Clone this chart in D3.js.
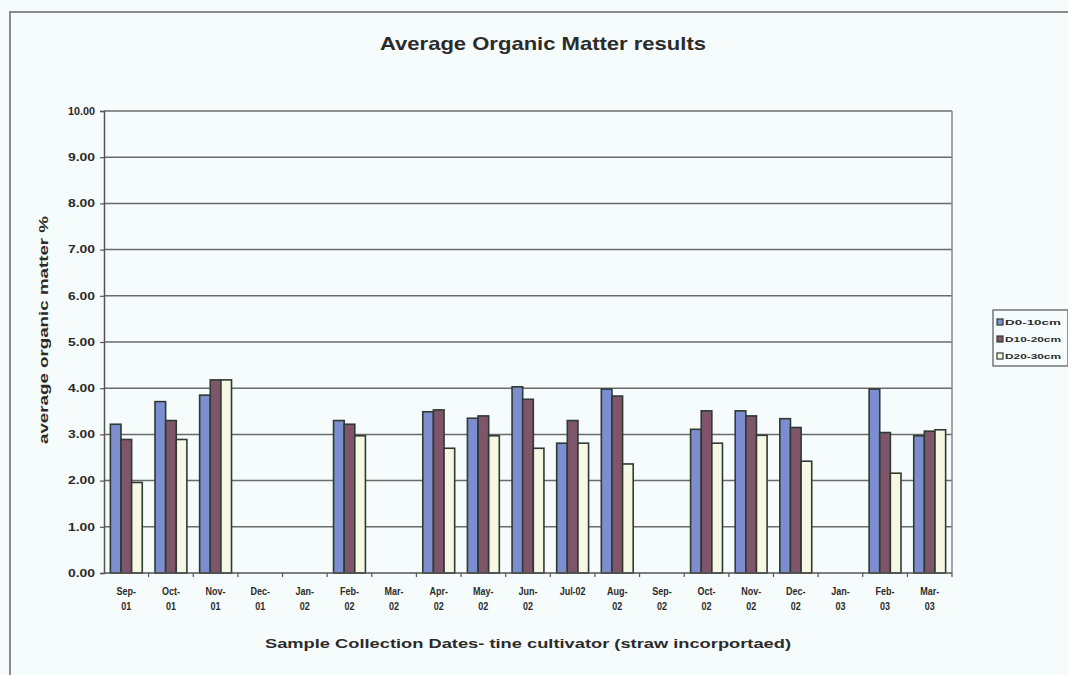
<!DOCTYPE html>
<html>
<head>
<meta charset="utf-8">
<script src="https://cdn.jsdelivr.net/npm/d3@7"></script>
<style>
  html, body { margin: 0; padding: 0; background: #f6fbfb; }
  svg { display: block; }
  text { font-family: "Liberation Sans", Arial, sans-serif; font-weight: bold; fill: #2b2b2b; }
</style>
</head>
<body>
<svg id="chart" width="1068" height="675"></svg>
<script>
// Sampling months (line 1 / line 2 of each tick label)
const months = ["Sep-01","Oct-01","Nov-01","Dec-01","Jan-02","Feb-02","Mar-02","Apr-02","May-02","Jun-02",
                "Jul-02","Aug-02","Sep-02","Oct-02","Nov-02","Dec-02","Jan-03","Feb-03","Mar-03"];
const tickLines = [["Sep-","01"],["Oct-","01"],["Nov-","01"],["Dec-","01"],["Jan-","02"],["Feb-","02"],
                   ["Mar-","02"],["Apr-","02"],["May-","02"],["Jun-","02"],["Jul-02",""],["Aug-","02"],
                   ["Sep-","02"],["Oct-","02"],["Nov-","02"],["Dec-","02"],["Jan-","03"],["Feb-","03"],["Mar-","03"]];

// Average organic matter % per depth (null = not sampled)
const d0_10  = [3.22, 3.71, 3.85, null, null, 3.30, null, 3.49, 3.35, 4.03, 2.81, 3.98, null, 3.11, 3.51, 3.34, null, 3.98, 2.97];
const d10_20 = [2.89, 3.30, 4.18, null, null, 3.22, null, 3.53, 3.40, 3.76, 3.30, 3.83, null, 3.51, 3.40, 3.15, null, 3.04, 3.07];
const d20_30 = [1.96, 2.89, 4.18, null, null, 2.97, null, 2.70, 2.97, 2.70, 2.81, 2.36, null, 2.81, 2.98, 2.42, null, 2.16, 3.10];

const seriesNames = ["D0-10cm", "D10-20cm", "D20-30cm"];
const seriesValues = [d0_10, d10_20, d20_30];
const seriesColors = ["#7c8dd0", "#7f5669", "#f6f8e4"];

const yTicks = [0,1,2,3,4,5,6,7,8,9,10];

const svg = d3.select("#chart");

// outer chart frame
svg.append("path")
  .attr("d", "M10,675 L10,12 L1068,12")
  .attr("fill", "none").attr("stroke", "#8a8a8a").attr("stroke-width", 2);

const plot = { left: 104, right: 952, top: 111, bottom: 573 };

const x = d3.scaleBand().domain(months).range([plot.left, plot.right]).paddingInner(0).paddingOuter(0);
const inner = d3.scaleBand().domain(d3.range(3)).range([0, x.bandwidth() / 1.4]);
const y = d3.scaleLinear().domain([0, 10]).range([plot.bottom, plot.top]);

// gridlines
svg.append("g").selectAll("line").data(yTicks.filter(t => t > 0)).join("line")
  .attr("x1", plot.left).attr("x2", plot.right)
  .attr("y1", d => y(d)).attr("y2", d => y(d))
  .attr("stroke", "#6a6a6a").attr("stroke-width", 1.5);

// right border of plot area
svg.append("line")
  .attr("x1", plot.right).attr("x2", plot.right).attr("y1", plot.top).attr("y2", plot.bottom)
  .attr("stroke", "#8a8a8a").attr("stroke-width", 1.5);

// bars
const groupOffset = (x.bandwidth() - x.bandwidth() / 1.4) / 2;
seriesValues.forEach((vals, s) => {
  svg.append("g").selectAll("rect")
    .data(months.map((m, i) => ({ m, v: vals[i] })).filter(d => d.v !== null))
    .join("rect")
    .attr("x", d => x(d.m) + groupOffset + inner(s))
    .attr("y", d => y(d.v))
    .attr("width", inner.bandwidth())
    .attr("height", d => y(0) - y(d.v))
    .attr("fill", seriesColors[s])
    .attr("stroke", "#2f3a34").attr("stroke-width", 1.6);
});

// y axis
const yAxis = d3.axisLeft(y).tickValues(yTicks).tickFormat(d3.format(".2f")).tickSize(4).tickPadding(5);
const gy = svg.append("g").attr("transform", `translate(${plot.left},0)`).call(yAxis);
gy.select(".domain").attr("stroke", "#555").attr("stroke-width", 1.5);
gy.selectAll(".tick line").attr("stroke", "#555").attr("stroke-width", 1.2);
gy.selectAll(".tick text").style("font-size", "10px").attr("fill", "#333")
  .style("font-family", "'Liberation Sans', Arial, sans-serif").style("font-weight", "bold")
  .attr("textLength", 27).attr("lengthAdjust", "spacingAndGlyphs");

// x axis baseline with category boundary ticks
svg.append("line").attr("x1", plot.left).attr("x2", plot.right).attr("y1", plot.bottom).attr("y2", plot.bottom)
  .attr("stroke", "#555").attr("stroke-width", 1.5);
svg.append("g").selectAll("line").data(months).join("line")
  .attr("x1", d => x(d) + x.bandwidth()).attr("x2", d => x(d) + x.bandwidth())
  .attr("y1", plot.bottom).attr("y2", plot.bottom + 4)
  .attr("stroke", "#555").attr("stroke-width", 1.2);

// x tick labels (two lines)
const xl = svg.append("g").selectAll("g").data(months).join("g")
  .attr("transform", d => `translate(${x(d) + x.bandwidth() / 2},0)`);
xl.append("text").attr("y", 595).attr("text-anchor", "middle").style("font-size", "10px")
  .attr("transform", "scale(0.9,1)")
  .text((d, i) => tickLines[i][0]);
xl.append("text").attr("y", 610).attr("text-anchor", "middle").style("font-size", "10px")
  .attr("transform", "scale(0.9,1)")
  .text((d, i) => tickLines[i][1]);

// titles
svg.append("text").attr("x", 543).attr("y", 50).attr("text-anchor", "middle")
  .style("font-size", "19px").attr("textLength", 326).attr("lengthAdjust", "spacingAndGlyphs")
  .text("Average Organic Matter results");

svg.append("text").attr("x", 528).attr("y", 648).attr("text-anchor", "middle")
  .style("font-size", "13px").attr("textLength", 526).attr("lengthAdjust", "spacingAndGlyphs")
  .text("Sample Collection Dates- tine cultivator (straw incorportaed)");

svg.append("text").attr("transform", "translate(48,330) rotate(-90)").attr("text-anchor", "middle")
  .style("font-size", "13px").attr("textLength", 228).attr("lengthAdjust", "spacingAndGlyphs")
  .text("average organic matter %");

// legend
const lg = svg.append("g");
lg.append("rect").attr("x", 993).attr("y", 310).attr("width", 75).attr("height", 56)
  .attr("fill", "none").attr("stroke", "#555").attr("stroke-width", 1.2);
seriesNames.forEach((name, s) => {
  const yy = 322 + s * 17;
  lg.append("rect").attr("x", 997).attr("y", yy - 3).attr("width", 6).attr("height", 6)
    .attr("fill", seriesColors[s]).attr("stroke", "#2f3a34").attr("stroke-width", 1.2);
  lg.append("text").attr("x", 1005).attr("y", yy + 3).style("font-size", "8px")
    .attr("textLength", 56).attr("lengthAdjust", "spacingAndGlyphs").text(name);
});
</script>
</body>
</html>
